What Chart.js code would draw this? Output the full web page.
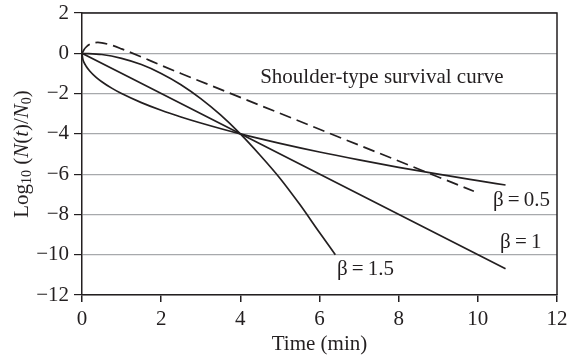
<!DOCTYPE html>
<html>
<head>
<meta charset="utf-8">
<script src="https://cdn.jsdelivr.net/npm/chart.js@4"></script>
<style>
  html, body { margin: 0; padding: 0; background: #fff; }
  #wrap { width: 567px; height: 357px; }
</style>
</head>
<body>
<div id="wrap"><canvas id="chart" width="567" height="357"></canvas></div>
<script>
// --- values ---
const xTicks = [0, 2, 4, 6, 8, 10, 12];
const yTicks = [-12, -10, -8, -6, -4, -2, 0, 2];

const beta05Time = [0, 0.02, 0.05, 0.1, 0.2, 0.35, 0.5, 0.75, 1, 1.5, 2, 2.5, 3, 4, 5, 6, 7, 8, 9, 10, 10.7];
const beta05Log  = [0, -0.28, -0.45, -0.63, -0.89, -1.18, -1.41, -1.73, -2, -2.45, -2.83, -3.16, -3.46, -4, -4.47, -4.9, -5.29, -5.66, -6, -6.32, -6.54];

const beta1Time = [0, 10.7];
const beta1Log  = [0, -10.7];

const beta15Time = [0, 0.5, 1, 1.5, 2, 2.5, 3, 3.5, 4, 4.5, 5, 5.5, 6, 6.4];
const beta15Log  = [0, -0.06, -0.25, -0.56, -1.0, -1.56, -2.25, -3.06, -4, -5.06, -6.2, -7.5, -8.9, -10.0];

const shoulderTime = [0, 0.05, 0.1, 0.2, 0.3, 0.4, 0.5, 0.75, 1, 1.5, 2, 2.5, 9.9];
const shoulderLog  = [0, 0.18, 0.3, 0.45, 0.52, 0.54, 0.52, 0.4, 0.22, -0.18, -0.6, -1.0, -6.85];

const labels = [
  { text: 'Shoulder-type survival curve', x: 4.5, y: -1.18 },
  { text: 'β\u2009=\u20090.5', x: 10.38, y: -7.29 },
  { text: 'β\u2009=\u20091', x: 10.56, y: -9.41 },
  { text: 'β\u2009=\u20091.5', x: 6.44, y: -10.74 }
];

const ink = '#231f20';
const serif = "'Liberation Serif', 'DejaVu Serif', serif";

function pts(xs, ys) {
  return xs.map((x, i) => ({ x: x, y: ys[i] }));
}

const lineStyle = {
  borderColor: ink,
  borderWidth: 1.7,
  pointRadius: 0,
  fill: false,
  cubicInterpolationMode: 'monotone'
};

// text labels inside the plot + frame on top and right
const annotate = {
  id: 'annotate',
  afterDatasetsDraw(chart) {
    const { ctx, chartArea, scales } = chart;
    ctx.save();
    ctx.strokeStyle = ink;
    ctx.lineWidth = 1.5;
    ctx.beginPath();
    ctx.moveTo(chartArea.left, chartArea.top);
    ctx.lineTo(chartArea.right, chartArea.top);
    ctx.lineTo(chartArea.right, chartArea.bottom);
    ctx.stroke();

    ctx.fillStyle = ink;
    ctx.font = '21px ' + serif;
    ctx.textBaseline = 'middle';
    ctx.textAlign = 'left';
    labels.forEach(l => {
      ctx.fillText(l.text, scales.x.getPixelForValue(l.x), scales.y.getPixelForValue(l.y));
    });
    ctx.restore();
  },
  afterDraw(chart) {
    // y axis title with subscripts and italics
    const { ctx } = chart;
    const parts = [
      { t: 'Log', f: '21px ' + serif, dy: 0 },
      { t: '10', f: '14px ' + serif, dy: 5 },
      { t: ' (', f: '21px ' + serif, dy: 0 },
      { t: 'N', f: 'italic 21px ' + serif, dy: 0 },
      { t: '(', f: '21px ' + serif, dy: 0 },
      { t: 't', f: 'italic 21px ' + serif, dy: 0 },
      { t: ')/', f: '21px ' + serif, dy: 0 },
      { t: 'N', f: 'italic 21px ' + serif, dy: 0 },
      { t: '0', f: '14px ' + serif, dy: 5 },
      { t: ')', f: '21px ' + serif, dy: 0 }
    ];
    ctx.save();
    let total = 0;
    parts.forEach(p => { ctx.font = p.f; p.w = ctx.measureText(p.t).width; total += p.w; });
    ctx.translate(22, 154);
    ctx.rotate(-Math.PI / 2);
    ctx.fillStyle = ink;
    ctx.textBaseline = 'middle';
    ctx.textAlign = 'left';
    let x = -total / 2;
    parts.forEach(p => {
      ctx.font = p.f;
      ctx.fillText(p.t, x, p.dy);
      x += p.w;
    });
    ctx.restore();
  }
};

new Chart(document.getElementById('chart'), {
  type: 'line',
  data: {
    datasets: [
      Object.assign({ label: 'β = 0.5', data: pts(beta05Time, beta05Log) }, lineStyle),
      Object.assign({ label: 'β = 1', data: pts(beta1Time, beta1Log) }, lineStyle),
      Object.assign({ label: 'β = 1.5', data: pts(beta15Time, beta15Log) }, lineStyle),
      Object.assign({ label: 'Shoulder', data: pts(shoulderTime, shoulderLog), borderDash: [12, 6] }, lineStyle)
    ]
  },
  options: {
    responsive: false,
    animation: false,
    layout: { padding: { left: 0, right: 10, top: 13, bottom: 0 } },
    plugins: { legend: { display: false }, tooltip: { enabled: false } },
    scales: {
      x: {
        type: 'linear',
        min: 0,
        max: 12,
        afterBuildTicks: s => { s.ticks = xTicks.map(v => ({ value: v })); },
        afterFit: s => { s.height = 62; s.paddingLeft = 0; s.paddingRight = 0; },
        ticks: { color: ink, font: { family: serif, size: 21 }, padding: 5, maxRotation: 0 },
        grid: { drawOnChartArea: false, drawTicks: true, tickLength: 7, tickColor: ink, lineWidth: 1.5 },
        border: { color: ink, width: 1.5 },
        title: { display: true, text: 'Time (min)', color: ink, font: { family: serif, size: 21 }, padding: 0 }
      },
      y: {
        type: 'linear',
        min: -12,
        max: 2,
        afterBuildTicks: s => { s.ticks = yTicks.map(v => ({ value: v })); },
        afterFit: s => { s.width = 82; s.paddingTop = 0; s.paddingBottom = 0; },
        ticks: {
          color: ink,
          font: { family: serif, size: 21 },
          padding: 5,
          callback: v => (v < 0 ? '\u2212' + Math.abs(v) : String(v))
        },
        grid: { color: '#a7a9ac', lineWidth: 1.2, drawTicks: true, tickLength: 8, tickColor: ink },
        border: { color: ink, width: 1.5 }
      }
    }
  },
  plugins: [annotate]
});
</script>
</body>
</html>
